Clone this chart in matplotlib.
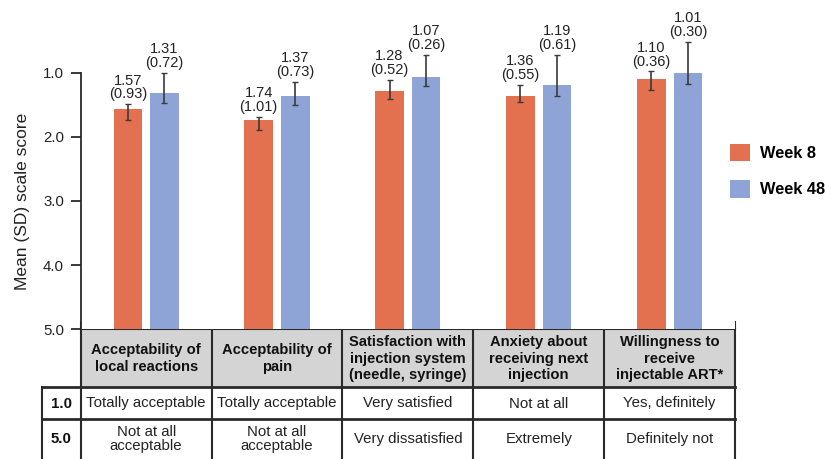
import matplotlib
matplotlib.use("Agg")
import matplotlib.pyplot as plt
import numpy as np

plt.rcParams['font.family'] = ['Liberation Sans', 'DejaVu Sans']

# ---- data ----
categories = [
    "Acceptability of\nlocal reactions",
    "Acceptability of\npain",
    "Satisfaction with\ninjection system\n(needle, syringe)",
    "Anxiety about\nreceiving next\ninjection",
    "Willingness to\nreceive\ninjectable ART*",
]
week8_mean = [1.57, 1.74, 1.28, 1.36, 1.10]
week8_sd = [0.93, 1.01, 0.52, 0.55, 0.36]
week48_mean = [1.31, 1.37, 1.07, 1.19, 1.01]
week48_sd = [0.72, 0.73, 0.26, 0.61, 0.30]
# whisker ends (upper = better end of scale, lower = worse end)
week8_whisk_top = [1.49, 1.69, 1.11, 1.19, 0.98]
week8_whisk_bot = [1.73, 1.89, 1.41, 1.45, 1.27]
week48_whisk_top = [1.00, 1.14, 0.72, 0.72, 0.52]
week48_whisk_bot = [1.48, 1.50, 1.21, 1.36, 1.17]
series_names = ["Week 8", "Week 48"]
yticks = [1.0, 2.0, 3.0, 4.0, 5.0]
anchor_labels = ["1.0", "5.0"]
anchor_best = ["Totally acceptable", "Totally acceptable", "Very satisfied",
               "Not at all", "Yes, definitely"]
anchor_worst = ["Not at all\nacceptable", "Not at all\nacceptable",
                "Very dissatisfied", "Extremely", "Definitely not"]

C8 = "#E3714F"
C48 = "#8EA4D6"
LINE = "#2a2a2a"

W, H = 825, 459
fig = plt.figure(figsize=(W / 100, H / 100), dpi=100)

# pixel layout of the plotting area
x_left, x_right = 80.7, 735.0
y1px, y5px = 72.7, 329.3
per_unit = (y5px - y1px) / 4.0
y_top_val = 1.0 - y1px / per_unit

ax = fig.add_axes([x_left / W, (H - y5px) / H, (x_right - x_left) / W, y5px / H])
ax.set_xlim(-0.5, len(categories) - 0.5)
ax.set_ylim(5.0, y_top_val)

x = np.arange(len(categories))
off, bw = 0.14, 0.218
m8 = np.array(week8_mean)
m48 = np.array(week48_mean)

b8 = ax.bar(x - off, 5.0 - m8, bottom=m8, width=bw, color=C8, label=series_names[0], zorder=2)
b48 = ax.bar(x + off, 5.0 - m48, bottom=m48, width=bw, color=C48, label=series_names[1], zorder=2)

for xs, mean, top, bot, sd in [
    (x - off, m8, week8_whisk_top, week8_whisk_bot, week8_sd),
    (x + off, m48, week48_whisk_top, week48_whisk_bot, week48_sd),
]:
    top = np.array(top)
    bot = np.array(bot)
    ax.errorbar(xs, mean, yerr=[mean - top, bot - mean], fmt="none",
                ecolor="#3a3a3a", elinewidth=1.2, capsize=2, capthick=1.0, zorder=3)
    for xi, mi, ti, si in zip(xs, mean, top, sd):
        ax.annotate(f"{mi:.2f}\n({si:.2f})", xy=(xi, ti), xytext=(0, 2),
                    textcoords="offset points", ha="center", va="bottom",
                    fontsize=10.5, color="#222222", linespacing=0.98,
                    annotation_clip=False)

ax.set_yticks(yticks)
ax.set_yticklabels([f"{v:.1f}" for v in yticks], fontsize=10.8, color="#222222")
ax.tick_params(axis="y", length=7, width=1.3, color=LINE, pad=5)
ax.set_xticks([])
for s in ["top", "right", "bottom"]:
    ax.spines[s].set_visible(False)
ax.spines["left"].set_bounds(1.0, 5.0)
ax.spines["left"].set_color(LINE)
ax.spines["left"].set_linewidth(1.3)
ax.set_ylabel("Mean (SD) scale score", fontsize=12.5, color="#222222")
ax.yaxis.set_label_coords(-0.078, (5.0 - 3.0) / (5.0 - y_top_val))

leg = fig.legend(handles=[b8, b48], loc="upper left",
                 bbox_to_anchor=(730 / W, 1 - 144 / H), frameon=False,
                 handlelength=1.25, handleheight=1.25, handletextpad=0.55,
                 labelspacing=1.15, borderpad=0, borderaxespad=0,
                 prop={"weight": "bold", "size": 11.8})

# ---- table underneath the bars, drawn in pixel coordinates ----
ov = fig.add_axes([0, 0, 1, 1], zorder=-1)
ov.set_xlim(0, W)
ov.set_ylim(H, 0)
ov.axis("off")

col_w = (x_right - x_left) / len(categories)
col_edges = [x_left + i * col_w for i in range(len(categories) + 1)]
hdr_top, hdr_bot = y5px, 387.0
row1_bot = 419.0
tbl_bot = H + 2
lab_left = 42.0

ov.add_patch(plt.Rectangle((x_left, hdr_top), x_right - x_left, hdr_bot - hdr_top,
                           facecolor="#d4d4d4", edgecolor="none"))
ov.plot([x_left, x_right], [hdr_top, hdr_top], color=LINE, lw=1.5)
ov.plot([lab_left, x_right], [hdr_bot, hdr_bot], color=LINE, lw=2.0)
ov.plot([lab_left, x_right], [row1_bot, row1_bot], color=LINE, lw=2.0)
ov.plot([lab_left, lab_left], [hdr_bot, tbl_bot], color=LINE, lw=1.5)
for xe in col_edges:
    ov.plot([xe, xe], [321.5, tbl_bot], color=LINE, lw=1.5)

for i, cat in enumerate(categories):
    cx = (col_edges[i] + col_edges[i + 1]) / 2
    ov.text(cx, (hdr_top + hdr_bot) / 2 + 0.5, cat, ha="center", va="center",
            fontsize=10.6, fontweight="bold", color="#111111", linespacing=1.22)
    ov.text(cx, (hdr_bot + row1_bot) / 2 + 0.5, anchor_best[i], ha="center", va="center",
            fontsize=10.8, color="#222222")
    ov.text(cx, 439, anchor_worst[i], ha="center", va="center",
            fontsize=10.8, color="#222222", linespacing=1.05)

ov.text((lab_left + x_left) / 2, (hdr_bot + row1_bot) / 2 + 0.5, anchor_labels[0],
        ha="center", va="center", fontsize=10.8, fontweight="bold", color="#111111")
ov.text((lab_left + x_left) / 2, 439, anchor_labels[1],
        ha="center", va="center", fontsize=10.8, fontweight="bold", color="#111111")

fig.savefig("out.png", dpi=100, facecolor="white")
